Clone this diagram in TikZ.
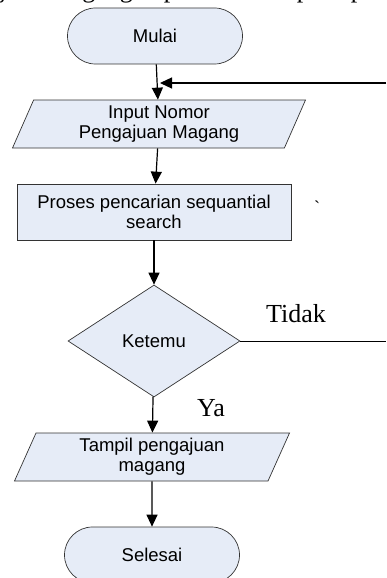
\documentclass[tikz,border=0pt]{standalone}
\usepackage{fontspec}
\setmainfont{Liberation Sans}
\newfontfamily\timesfont{Liberation Serif}
\usetikzlibrary{shapes.geometric,arrows.meta}
\definecolor{boxfill}{RGB}{230,236,247}

\begin{document}
\begin{tikzpicture}[x=1pt,y=-1pt,
    box/.style={draw=black!80,fill=boxfill,line width=0.7pt,
      font=\fontsize{18.5}{20}\selectfont,align=center,inner sep=0pt},
    terminal/.style={box,rounded corners=28pt,minimum width=175pt,minimum height=56pt},
    io/.style={box,trapezium,trapezium left angle=60,trapezium right angle=120,
      trapezium stretches body,minimum height=48pt},
    process/.style={box,rectangle,minimum width=274pt,minimum height=56pt},
    decision/.style={box,diamond,aspect=1.54,minimum width=172pt,minimum height=112pt},
    flow/.style={line width=1.2pt,-{Triangle[length=12pt,width=11pt]}},
    label/.style={font=\timesfont\fontsize{26}{28}\selectfont,inner sep=0pt}]
  \clip (0,0) rectangle (386,578);

  % text above the chart
  \node[label,anchor=base west] (intro) at (-63,-2.5) {pengajuan magang dapat dilihat seperti pada};

  % Flowchart
  \node[terminal] (mulai) at (155,36) {Mulai};
  \node[io,minimum width=293pt] (input) at (159,124) {Input Nomor\\Pengajuan Magang};
  \node[process] (proses) at (154,212) {Proses pencarian sequantial\\search};
  \node[decision] (ketemu) at (154,341) {Ketemu};
  \node[io,minimum width=275pt] (tampil) at (152,457) {Tampil pengajuan\\magang};
  \node[terminal] (selesai) at (152,555) {Selesai};

  \coordinate (loopin) at (386,83);
  \coordinate (join) at (160,83);
  \coordinate (tidakout) at (386,341);

  \draw[flow] (mulai) -- (input);
  \draw[flow] (loopin) -- (join);
  \draw[flow] (input) -- (proses);
  \draw[flow] (proses) -- (ketemu);
  \draw[line width=1pt] (ketemu.east) -- (tidakout);
  \draw[flow] (ketemu) -- (tampil);
  \draw[flow] (tampil) -- (selesai);

  \node[label] (tidak) at (296,314) {Tidak};
  \node[label] (ya) at (211,408) {Ya};
  \node[label,font=\timesfont\fontsize{18}{20}\selectfont] (tick) at (317,207) {\textasciigrave};
\end{tikzpicture}
\end{document}
